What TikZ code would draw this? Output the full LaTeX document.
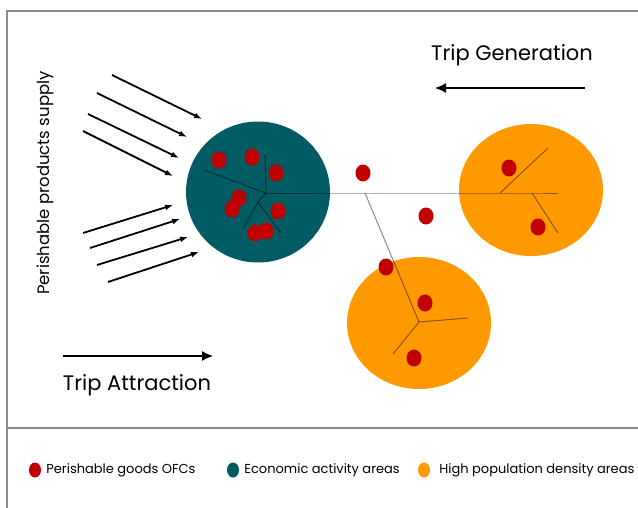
\documentclass[tikz,border=0pt]{standalone}
\usepackage{fontspec}
\setmainfont{Poppins}
\usetikzlibrary{shapes,positioning,arrows.meta}

\definecolor{ofcred}{RGB}{192,0,0}
\definecolor{ecoteal}{RGB}{0,91,99}
\definecolor{poporange}{RGB}{255,153,0}

\begin{document}
\begin{tikzpicture}
            [
            x=1pt, y=-1pt,
            area/.style={ellipse, fill=#1, minimum width=144pt,
                minimum height=132pt, inner sep=0pt},
            ofc/.style={ellipse, fill=ofcred, minimum width=15pt,
                minimum height=17pt, inner sep=0pt},
            key dot/.style={ellipse, fill=#1, minimum width=12pt,
                minimum height=15pt, inner sep=0pt},
            branch/.style={draw=black, draw opacity=0.45, line width=1pt},
            flow/.style={-{Latex[length=8pt,width=6pt]}, line width=1.8pt},
            trip/.style={-{Latex[length=11pt,width=10pt]}, line width=1.3pt},
            frame line/.style={draw=black!45, line width=1.3pt},
            key/.style={anchor=west, inner sep=0pt, font=\fontsize{13}{15}\selectfont}
            ]
            \useasboundingbox (0,0) rectangle (638,507);

            % Frame
            \coordinate (tl) at (7,11);
            \coordinate (tr) at (640,11);
            \coordinate (bl) at (7,509);
            \coordinate (sl) at (7,428);
            \coordinate (sr) at (640,428);
            \draw [frame line] (tr) -- (tl) -- (bl);
            \draw [frame line] (sl) -- (sr);

            % Areas
            \node (eco) [area=ecoteal, minimum height=141pt] at (258,192) {};
            \node (popa) [area=poporange] at (531,190) {};
            \node (popb) [area=poporange] at (419,323) {};

            % Network
            \coordinate (h1) at (266,193);
            \coordinate (h2) at (365,193);
            \coordinate (h3) at (532,193);
            \coordinate (h4) at (419,322);
            \coordinate (h5) at (258,202);
            \coordinate (m1) at (500,193);
            \coordinate (n1) at (265,155);
            \coordinate (n2) at (204,170);
            \coordinate (n3) at (243,229);
            \coordinate (n4) at (281,233);
            \coordinate (n5) at (558,193);
            \coordinate (n6) at (548,148);
            \coordinate (n7) at (558,233);
            \coordinate (n8) at (468,318);
            \coordinate (n9) at (393,354);
            \draw [branch] (h1) -- (h2) -- (m1) -- (h3) -- (n5);
            \foreach \i/\j in {h2/h4,h1/n1,h1/n2,h1/h5,h5/n3,h5/n4,m1/n6,h3/n7,h4/n8,h4/n9}
            \draw [branch] (\i) -- (\j);

            % OFCs
            \foreach \name/\x/\y in {o1/219/160,o2/252/157,o3/276/173,o4/239/198,
                o5/232/209,o6/278/211,o7/255/233,o8/266/231,o9/363/173,
                o10/426/216,o11/386/267,o12/425/303,o13/414/358,
                o14/509/168,o15/538/227}
            \node (\name) [ofc] at (\x,\y) {};

            % Supply
            \foreach \k/\sx/\sy/\ex/\ey in {1/112/75/202/119,2/97/93/187/137,
                3/88/114/179/158,4/83/131/173/176,5/83/233/173/205,
                6/90/248/180/219,7/97/265/188/237,8/108/282/199/252}
            {
            \coordinate (s\k) at (\sx,\sy);
            \coordinate (t\k) at (\ex,\ey);
            \draw [flow] (s\k) -- (t\k);
            }
            \node (supply) [rotate=90, font=\fontsize{16.5}{18}\selectfont]
                at (45,183) {Perishable products supply};

            % Trips
            \node (gen) [font=\fontsize{21}{24}\selectfont] at (512,55) {Trip Generation};
            \coordinate (g1) at (585,88);
            \coordinate (g2) at (435,88);
            \draw [trip] (g1) -- (g2);
            \node (att) [font=\fontsize{21}{24}\selectfont] at (137,385) {Trip Attraction};
            \coordinate (a1) at (63,356);
            \coordinate (a2) at (213,356);
            \draw [trip] (a1) -- (a2);

            % Legend
            \node (k1) [key dot=ofcred] at (35,470) {};
            \node (l1) [key, right=5pt of k1] {Perishable goods OFCs};
            \node (k2) [key dot=ecoteal] at (233,470) {};
            \node (l2) [key, right=5pt of k2] {Economic activity areas};
            \node (k3) [key dot=poporange] at (424,470) {};
            \node (l3) [key, right=9pt of k3] {High population density areas};
        \end{tikzpicture}
\end{document}
